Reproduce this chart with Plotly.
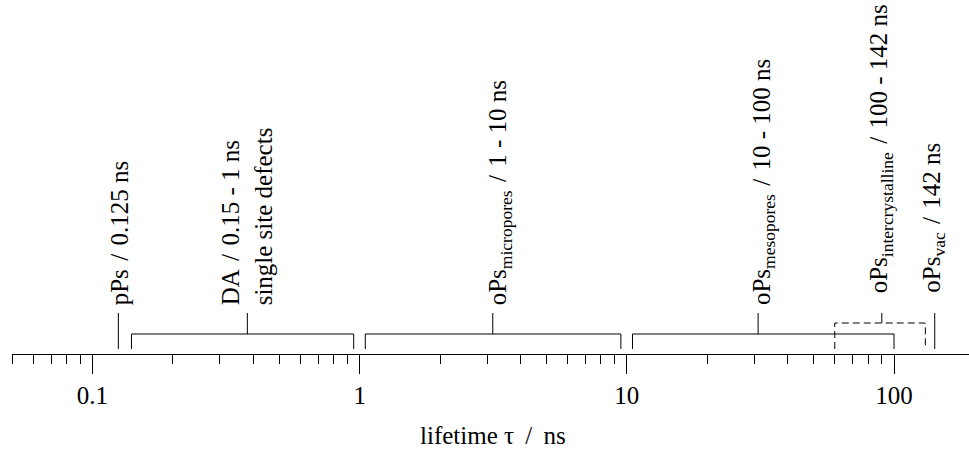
import numpy as np
import plotly.graph_objects as go

# ---- data ----
major_ticks = [0.1, 1, 10, 100]
major_labels = ["0.1", "1", "10", "100"]
minor_ticks = ([0.05, 0.06, 0.07, 0.08, 0.09]
               + [0.2, 0.3, 0.4, 0.5, 0.6, 0.7, 0.8, 0.9]
               + [2, 3, 4, 5, 6, 7, 8, 9]
               + [20, 30, 40, 50, 60, 70, 80, 90])

SL = "\u200a / \u200a"  # slash with slightly wider spacing (as in LaTeX original)

# single-value markers
single_names = ["pPs" + SL + "0.125 ns", "oPs<sub>vac</sub>" + SL + "142 ns"]
single_values = [0.125, 142]

# range brackets (drawn extent) and centre stem
bracket_names = ["DA" + SL + "0.15 - 1 ns<br>single site defects",
                 "oPs<sub>micropores</sub>" + SL + "1 - 10 ns",
                 "oPs<sub>mesopores</sub>" + SL + "10 - 100 ns",
                 "oPs<sub>intercrystalline</sub>" + SL + "100 - 142 ns"]
bracket_lo = [0.14, 1.05, 10.5, 60]
bracket_hi = [0.95, 9.5, 100, 131]
bracket_stem = [0.38, 3.15, 31, 90]
bracket_dashed = [False, False, False, True]

x_title = "lifetime τ \u2009/\u2009 ns"

# ---- styling (pixel heights above axis) ----
LEG_BOTTOM = 5
BRACKET_TOP = 20
DASHED_TOP = 31
STEM_TOP = 41
FONT = "Liberation Serif"
FS = 25

fig = go.Figure()

def add_line(xs, ys, dash="solid"):
    fig.add_trace(go.Scatter(x=xs, y=ys, mode="lines",
                             line=dict(color="black", width=1, dash=dash),
                             hoverinfo="skip", showlegend=False))

# single markers
for v in single_values:
    add_line([v, v], [LEG_BOTTOM, STEM_TOP])

# brackets
for lo, hi, st, d in zip(bracket_lo, bracket_hi, bracket_stem, bracket_dashed):
    top = DASHED_TOP if d else BRACKET_TOP
    add_line([lo, lo, hi, hi], [LEG_BOTTOM, top, top, LEG_BOTTOM],
             dash="7px,4px" if d else "solid")
    add_line([st, st], [top, STEM_TOP])

# labels
label_names = [single_names[0]] + bracket_names + [single_names[1]]
label_x = [single_values[0]] + bracket_stem + [single_values[1]]
label_dx = [1, 0, 7, 5, -1, -2]
label_y = [47, 47, 47, 47, 59, 59]
for name, xv, dx, yv in zip(label_names, label_x, label_dx, label_y):
    fig.add_annotation(x=np.log10(xv), y=yv, xref="x", yref="y",
                       text=name, textangle=-90, showarrow=False,
                       xanchor="center", yanchor="bottom", align="left",
                       xshift=dx,
                       font=dict(family=FONT, size=FS, color="black"))

fig.add_annotation(x=0.5, y=0, xref="paper", yref="paper", text=x_title,
                   showarrow=False, xanchor="center", yanchor="middle",
                   xshift=2, yshift=-81,
                   font=dict(family=FONT, size=FS, color="black"))

fig.update_layout(
    width=969, height=453,
    margin=dict(l=12, r=0, t=0, b=99),
    paper_bgcolor="white", plot_bgcolor="white",
    showlegend=False,
    xaxis=dict(type="log", range=[np.log10(0.05), 2.2806],
               showline=True, linecolor="black", linewidth=1,
               showgrid=False, zeroline=False,
               tickmode="array", tickvals=major_ticks, ticktext=major_labels,
               ticks="outside", ticklen=19, tickwidth=1, tickcolor="black",
               tickfont=dict(family=FONT, size=FS, color="black"),
               minor=dict(tickvals=minor_ticks, ticks="outside", ticklen=9,
                          tickwidth=1, tickcolor="black", showgrid=False),
               fixedrange=True),
    yaxis=dict(range=[0, 354], visible=False, fixedrange=True),
)

fig.write_html("out.html")
